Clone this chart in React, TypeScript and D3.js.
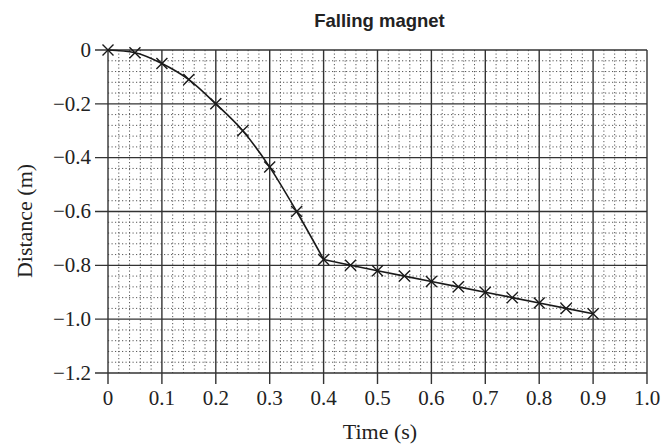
import * as d3 from "d3";
import { useEffect, useRef } from "react";

const times = [0, 0.05, 0.1, 0.15, 0.2, 0.25, 0.3, 0.35, 0.4, 0.45, 0.5, 0.55, 0.6, 0.65, 0.7, 0.75, 0.8, 0.85, 0.9];
const distances = [0, -0.01, -0.05, -0.11, -0.2, -0.3, -0.435, -0.6, -0.778, -0.8, -0.82, -0.84, -0.86, -0.88, -0.9, -0.92, -0.94, -0.96, -0.98];
const xTicks = [0, 0.1, 0.2, 0.3, 0.4, 0.5, 0.6, 0.7, 0.8, 0.9, 1.0];
const yTicks = [0, -0.2, -0.4, -0.6, -0.8, -1.0, -1.2];

const W = 665;
const H = 444;

export default function App() {
  const svgRef = useRef<SVGSVGElement>(null);

  useEffect(() => {
    const svg = d3.select(svgRef.current);
    svg.selectAll("*").remove();

    const left = 108, right = 647, top = 50, bottom = 373;
    const x = d3.scaleLinear().domain([0, 1]).range([left, right]);
    const y = d3.scaleLinear().domain([0, -1.2]).range([top, bottom]);

    // minor grid (5 subdivisions)
    const minorX = d3.range(0, 51).map(i => i / 50).filter((_, i) => i % 5 !== 0);
    const minorY = d3.range(0, 31).map(i => -i * 0.04).filter((_, i) => i % 5 !== 0);
    const grid = svg.append("g");
    grid.selectAll(".mx").data(minorX).join("line")
      .attr("x1", d => x(d)).attr("x2", d => x(d))
      .attr("y1", top).attr("y2", bottom)
      .attr("stroke", "#444").attr("stroke-width", 0.9)
      .attr("stroke-dasharray", "1.2,2.3");
    grid.selectAll(".my").data(minorY).join("line")
      .attr("y1", d => y(d)).attr("y2", d => y(d))
      .attr("x1", left).attr("x2", right)
      .attr("stroke", "#444").attr("stroke-width", 0.9)
      .attr("stroke-dasharray", "1.2,2.3");

    // major grid + ticks
    grid.selectAll(".Mx").data(xTicks).join("line")
      .attr("x1", d => x(d)).attr("x2", d => x(d))
      .attr("y1", top).attr("y2", bottom + 11)
      .attr("stroke", "#333").attr("stroke-width", 1.4);
    grid.selectAll(".My").data(yTicks).join("line")
      .attr("y1", d => y(d)).attr("y2", d => y(d))
      .attr("x1", left - 13).attr("x2", right)
      .attr("stroke", "#333").attr("stroke-width", 1.4);

    // tick labels
    const fmt = (v: number) => v === 0 ? "0" : (v < 0 ? "\u2212" : "") + Math.abs(v).toFixed(1);
    svg.append("g").selectAll("text").data(xTicks).join("text")
      .attr("x", d => x(d)).attr("y", 405)
      .attr("text-anchor", "middle")
      .attr("font-family", "'Liberation Serif', serif").attr("font-size", 21)
      .attr("fill", "#222")
      .text(d => fmt(d));
    svg.append("g").selectAll("text").data(yTicks).join("text")
      .attr("x", 91).attr("y", d => y(d) + 2)
      .attr("text-anchor", "end").attr("dominant-baseline", "middle")
      .attr("font-family", "'Liberation Serif', serif").attr("font-size", 21)
      .attr("fill", "#222")
      .text(d => fmt(d));

    // curve: smooth fall then straight section
    const pts = times.map((t, i) => [t, distances[i]] as [number, number]);
    const split = times.indexOf(0.4);
    svg.append("path")
      .attr("d", d3.line<[number, number]>().x(d => x(d[0])).y(d => y(d[1])).curve(d3.curveMonotoneX)(pts.slice(0, split + 1)))
      .attr("fill", "none").attr("stroke", "#1a1a1a").attr("stroke-width", 1.6);
    svg.append("path")
      .attr("d", d3.line<[number, number]>().x(d => x(d[0])).y(d => y(d[1]))(pts.slice(split)))
      .attr("fill", "none").attr("stroke", "#1a1a1a").attr("stroke-width", 1.6);

    // X markers
    const s = 5.5;
    svg.append("g").selectAll("path").data(pts).join("path")
      .attr("d", d => {
        const cx = x(d[0]), cy = y(d[1]);
        return `M${cx - s},${cy - s}L${cx + s},${cy + s}M${cx - s},${cy + s}L${cx + s},${cy - s}`;
      })
      .attr("stroke", "#1a1a1a").attr("stroke-width", 1.4).attr("fill", "none");

    // titles
    svg.append("text")
      .attr("x", (left + right) / 2 + 2).attr("y", 27)
      .attr("text-anchor", "middle")
      .attr("font-family", "'Liberation Sans', Arial, sans-serif").attr("font-weight", "bold")
      .attr("font-size", 18.5).attr("fill", "#222")
      .text("Falling magnet");
    svg.append("text")
      .attr("x", 380).attr("y", 439)
      .attr("text-anchor", "middle")
      .attr("font-family", "'Liberation Serif', serif").attr("font-size", 22)
      .attr("fill", "#222")
      .text("Time (s)");
    svg.append("text")
      .attr("transform", "translate(32,221) rotate(-90)")
      .attr("text-anchor", "middle")
      .attr("font-family", "'Liberation Serif', serif").attr("font-size", 22)
      .attr("fill", "#222")
      .text("Distance (m)");
  }, []);

  return (
    <svg
      ref={svgRef}
      width={W}
      height={H}
      style={{ position: "absolute", left: 0, top: 0, background: "#fff" }}
    />
  );
}
